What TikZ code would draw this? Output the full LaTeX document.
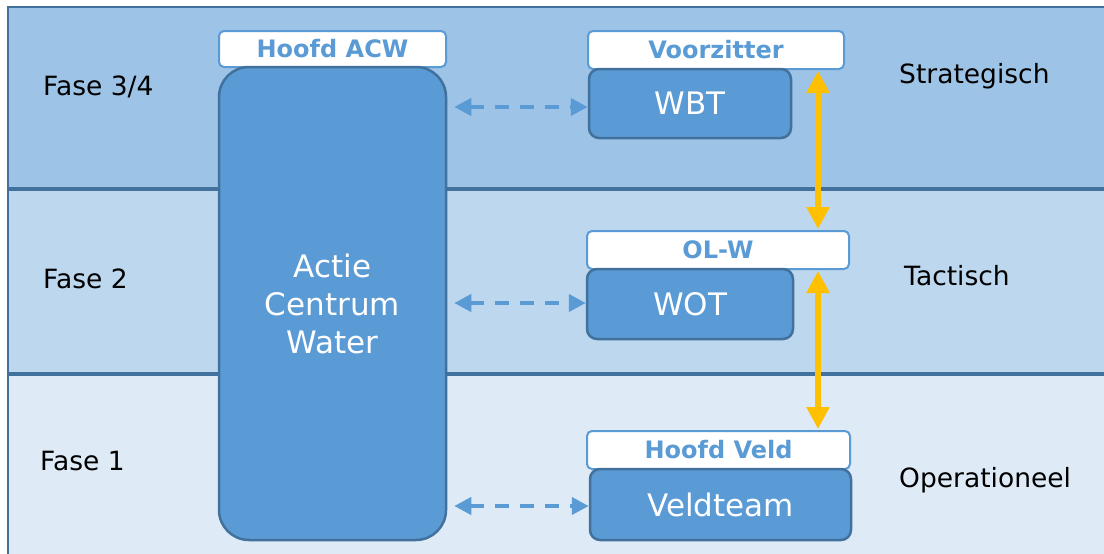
\documentclass[tikz,border=0pt]{standalone}
\usepackage{fontspec}
\setmainfont{DejaVu Sans}
\usetikzlibrary{arrows.meta}
\definecolor{bandA}{HTML}{9DC3E6}
\definecolor{bandB}{HTML}{BDD7EE}
\definecolor{bandC}{HTML}{DEEBF7}
\definecolor{boxfill}{HTML}{5B9BD5}
\definecolor{boxline}{HTML}{41719C}
\definecolor{gold}{HTML}{FFC000}
\begin{document}
\begin{tikzpicture}[x=1pt,y=-1pt,
  bandtext/.style={text=black, font=\fontsize{26.5}{31}\selectfont, inner sep=0pt},
  mainbox/.style={draw=boxline, fill=boxfill, line width=2.5pt, rounded corners=10pt,
     text=white, font=\fontsize{31}{38}\selectfont, align=center, inner sep=0pt},
  labelbox/.style={draw=boxfill, fill=white, line width=2pt, rounded corners=5pt,
     text=boxfill, font=\bfseries\fontsize{24}{28}\selectfont, inner sep=0pt},
  dasharrow/.style={draw=boxfill, line width=4pt, dash pattern=on 14pt off 11pt,
     {Triangle[length=17pt,width=17pt]}-{Triangle[length=17pt,width=17pt]}},
  goldarrow/.style={draw=gold, line width=5.5pt,
     {Triangle[length=22pt,width=22pt]}-{Triangle[length=22pt,width=22pt]}}
]
\useasboundingbox (0,0) rectangle (1104,554);
\begin{scope}
\clip (0,0) rectangle (1104,554);
\fill[white] (0,0) rectangle (1104,554);
\filldraw[fill=bandA, draw=boxline, line width=2pt] (8,7) rectangle (1112,189);
\filldraw[fill=bandB, draw=boxline, line width=2pt] (8,189) rectangle (1112,374);
\filldraw[fill=bandC, draw=boxline, line width=2pt] (8,374) rectangle (1112,570);
\draw[boxline, line width=4pt] (8,189) -- (1112,189);
\draw[boxline, line width=4pt] (8,374) -- (1112,374);
\end{scope}

% band labels
\node[bandtext, anchor=base west] (f34) at (43,95) {Fase 3/4};
\node[bandtext, anchor=base west] (f2) at (43,288) {Fase 2};
\node[bandtext, anchor=base west] (f1) at (40,470) {Fase 1};
\node[bandtext, anchor=base west] (strat) at (899,83) {Strategisch};
\node[bandtext, anchor=base west] (tact) at (904,285) {Tactisch};
\node[bandtext, anchor=base west] (oper) at (899,487) {Operationeel};

% boxes
\node[labelbox, minimum width=227pt, minimum height=36pt] (hacw) at (332.5,49) {Hoofd ACW};
\node[mainbox, rounded corners=30pt, minimum width=227pt, minimum height=473pt] (acw) at (332.5,303.5) {Actie\\Centrum\\Water};

\node[labelbox, minimum width=256pt, minimum height=38pt] (voor) at (716,50) {Voorzitter};
\node[mainbox, minimum width=202pt, minimum height=69pt] (wbt) at (690,103.5) {WBT};

\node[labelbox, minimum width=262pt, minimum height=38pt] (olw) at (718,250) {OL-W};
\node[mainbox, minimum width=206pt, minimum height=70pt] (wot) at (690,304) {WOT};

\node[labelbox, minimum width=263pt, minimum height=38pt] (hveld) at (718.5,450) {Hoofd Veld};
\node[mainbox, minimum width=261pt, minimum height=71pt] (veld) at (720.5,504.5) {Veldteam};

% dashed connectors
\draw[dasharrow] ([xshift=7pt]acw.east |- 0,107) -- (wbt.west |- 0,107);
\draw[dasharrow] ([xshift=7pt]acw.east |- 0,303) -- (wot.west |- 0,303);
\draw[dasharrow] ([xshift=7pt]acw.east |- 0,506) -- (veld.west |- 0,506);

% gold connectors
\coordinate (gx) at (818,0);
\draw[goldarrow] ([yshift=-1pt]voor.south -| gx) -- ([yshift=1pt]olw.north -| gx);
\draw[goldarrow] ([yshift=-1pt]olw.south -| gx) -- ([yshift=1pt]hveld.north -| gx);
\end{tikzpicture}
\end{document}
